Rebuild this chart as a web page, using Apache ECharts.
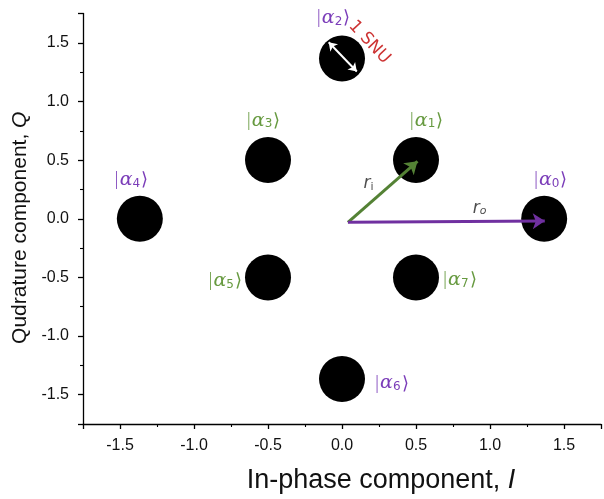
<!DOCTYPE html>
<html>
<head>
<meta charset="utf-8">
<script src="https://cdn.jsdelivr.net/npm/echarts@6/dist/echarts.min.js"></script>
<style>html,body{margin:0;padding:0;background:#fff;}#c{width:604px;height:499px;}</style>
</head>
<body>
<div id="c"></div>
<script>
// ---- data ----
const pointI = [1.366, 0.5, 0, -0.5, -1.366, -0.5, 0, 0.5];
const pointQ = [0, 0.5, 1.366, 0.5, 0, -0.5, -1.366, -0.5];
const ketIndex = [0, 1, 2, 3, 4, 5, 6, 7];
const ring = ['outer', 'inner', 'outer', 'inner', 'outer', 'inner', 'outer', 'inner'];
const riArrow = [[0.04, -0.03], [0.51, 0.49]];
const roArrow = [[0.04, -0.03], [1.37, -0.02]];
const snuArrow = [[-0.09, 1.505], [0.10, 1.255]];
const snuText = [0.185, 1.505];
const riText = [0.18, 0.31];
const roText = [0.93, 0.10];
const xRange = [-1.75, 1.75];
const yRange = [-1.75, 1.75];

// ---- styles ----
const PURPLE = '#7b3db9';
const GREEN = '#679a40';
const ARROW_PURPLE = '#7030a0';
const ARROW_GREEN = '#548235';
const labelPlace = [
  {position: 'top', distance: 6, offset: [6, 0]},
  {position: 'top', distance: 7, offset: [10, 0]},
  {position: 'top', distance: 8, offset: [-9, 0]},
  {position: 'top', distance: 7, offset: [-5, 0]},
  {position: 'top', distance: 6, offset: [-9, 0]},
  {position: 'left', distance: 3, offset: [0, 2]},
  {position: 'right', distance: 9, offset: [0, 3]},
  {position: 'right', distance: 3, offset: [0, 1]}
];
function ketRich(color) {
  return {
    p: {fontFamily: 'DejaVu Sans', fontSize: 18, color: color, fontWeight: 200, lineHeight: 22, verticalAlign: 'bottom'},
    a: {fontFamily: 'DejaVu Serif', fontStyle: 'italic', fontSize: 19, color: color, lineHeight: 22, verticalAlign: 'bottom'},
    s: {fontFamily: 'DejaVu Sans', fontSize: 12, color: color, lineHeight: 22, verticalAlign: 'bottom', padding: [0, 1, 0, 0]}
  };
}
const pointData = pointI.map((x, i) => {
  const col = ring[i] === 'outer' ? PURPLE : GREEN;
  const pl = labelPlace[i];
  return {
    value: [x, pointQ[i]],
    label: {
      show: true, position: pl.position, distance: pl.distance, offset: pl.offset,
      formatter: '{p||}{a|α}{s|' + ketIndex[i] + '}{p|⟩}',
      rich: ketRich(col)
    }
  };
});

const tickFmt = v => (Math.abs(v * 2 - Math.round(v * 2)) < 1e-6) ? v.toFixed(1) : '';
function axisCommon() {
  return {
    splitNumber: 7,
    axisLine: {show: true, onZero: false, lineStyle: {color: '#000', width: 1.3}},
    axisTick: {show: true, inside: false, length: 5, lineStyle: {color: '#000', width: 1.3}},
    minorTick: {show: true, splitNumber: 2, length: 3, lineStyle: {color: '#000', width: 1.1}},
    splitLine: {show: false},
    axisLabel: {formatter: tickFmt, fontFamily: 'Liberation Sans', fontSize: 16, color: '#111', margin: 14},
    nameLocation: 'middle'
  };
}
const invisible = {color: 'rgba(0,0,0,0)'};

const chart = echarts.init(document.getElementById('c'), null, {renderer: 'canvas'});
chart.setOption({
  animation: false,
  backgroundColor: '#fff',
  grid: {left: 83, top: 13.5, width: 527, height: 425},
  xAxis: Object.assign(axisCommon(), {
    type: 'value', min: xRange[0], max: xRange[1],
    name: '{n|In-phase component, }{i|I}',
    nameGap: 43,
    nameTextStyle: {
      padding: [0, 0, 0, 78],
      rich: {
        n: {fontFamily: 'Liberation Sans', fontSize: 27, color: '#111'},
        i: {fontFamily: 'Liberation Sans', fontStyle: 'italic', fontSize: 27, color: '#111'}
      }
    }
  }),
  yAxis: Object.assign(axisCommon(), {
    type: 'value', min: yRange[0], max: yRange[1],
    name: '{n|Qudrature component, }{i|Q}',
    nameGap: 52,
    nameTextStyle: {
      padding: [0, 18, 0, 0],
      rich: {
        n: {fontFamily: 'Liberation Sans', fontSize: 21, color: '#111'},
        i: {fontFamily: 'Liberation Sans', fontStyle: 'italic', fontSize: 21, color: '#111'}
      }
    }
  }),
  series: [
    {
      type: 'scatter', symbol: 'circle', symbolSize: 46, z: 2,
      itemStyle: {color: '#000', opacity: 1},
      data: pointData
    },
    {
      type: 'lines', coordinateSystem: 'cartesian2d', z: 4,
      symbol: ['none', 'arrow'], symbolSize: 12,
      lineStyle: {color: ARROW_GREEN, width: 3, opacity: 1},
      data: [{coords: riArrow}]
    },
    {
      type: 'lines', coordinateSystem: 'cartesian2d', z: 4,
      symbol: ['none', 'arrow'], symbolSize: 12,
      lineStyle: {color: ARROW_PURPLE, width: 3, opacity: 1},
      data: [{coords: roArrow}]
    },
    {
      type: 'lines', coordinateSystem: 'cartesian2d', z: 5,
      symbol: ['arrow', 'arrow'], symbolSize: 8,
      lineStyle: {color: '#fff', width: 2, opacity: 1},
      data: [{coords: snuArrow}]
    },
    {
      type: 'scatter', symbol: 'circle', symbolSize: 1, z: 6, silent: true,
      itemStyle: invisible,
      data: [
        {value: snuText, label: {show: true, position: 'inside', formatter: '1 SNU', rotate: -47,
          fontFamily: 'DejaVu Sans', fontSize: 17, color: '#c00000'}},
        {value: riText, label: {show: true, position: 'inside', formatter: '{r|r}{s|i}',
          rich: {r: {fontFamily: 'DejaVu Sans', fontStyle: 'italic', fontSize: 17, color: '#222', lineHeight: 20, verticalAlign: 'bottom'},
                 s: {fontFamily: 'DejaVu Sans', fontSize: 11, color: '#222', lineHeight: 20, verticalAlign: 'bottom'}}}},
        {value: roText, label: {show: true, position: 'inside', formatter: '{r|r}{s|o}',
          rich: {r: {fontFamily: 'DejaVu Sans', fontStyle: 'italic', fontSize: 17, color: '#222', lineHeight: 20, verticalAlign: 'bottom'},
                 s: {fontFamily: 'DejaVu Sans', fontStyle: 'italic', fontSize: 11, color: '#222', lineHeight: 20, verticalAlign: 'bottom'}}}}
      ]
    }
  ]
});
</script>
</body>
</html>
